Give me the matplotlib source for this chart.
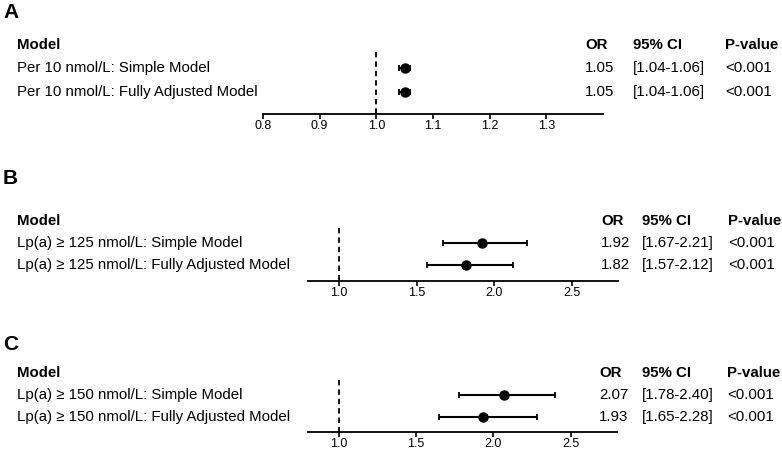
import matplotlib
matplotlib.use("Agg")
import matplotlib.pyplot as plt
from matplotlib.transforms import blended_transform_factory

plt.rcParams['font.family'] = ['Liberation Sans', 'DejaVu Sans']

W, H = 782, 451

# data
labels_a = ["Per 10 nmol/L: Simple Model", "Per 10 nmol/L: Fully Adjusted Model"]
or_a = [1.05, 1.05]
lo_a = [1.04, 1.04]
hi_a = [1.06, 1.06]
p_a = ["<0.001", "<0.001"]

labels_b = ["Lp(a) \u2265 125 nmol/L: Simple Model", "Lp(a) \u2265 125 nmol/L: Fully Adjusted Model"]
or_b = [1.92, 1.82]
lo_b = [1.67, 1.57]
hi_b = [2.21, 2.12]
p_b = ["<0.001", "<0.001"]

labels_c = ["Lp(a) \u2265 150 nmol/L: Simple Model", "Lp(a) \u2265 150 nmol/L: Fully Adjusted Model"]
or_c = [2.07, 1.93]
lo_c = [1.78, 1.65]
hi_c = [2.40, 2.28]
p_c = ["<0.001", "<0.001"]

ticks_a = [0.8, 0.9, 1.0, 1.1, 1.2, 1.3]
ticks_bc = [1.0, 1.5, 2.0, 2.5]

fig = plt.figure(figsize=(W / 100, H / 100), dpi=100)


def panel(letter, letter_y, labels, ors, los, his, ps, xlim, ticks,
          ax_x0, ax_x1, head_y, axis_y, ybot, cols):
    # axes spans from header row (y=-1) down to the axis line
    ax = fig.add_axes([ax_x0 / W, 1 - axis_y / H, (ax_x1 - ax_x0) / W, (axis_y - head_y) / H])
    ax.set_xlim(*xlim)
    ax.set_ylim(ybot, -1)
    for s in ['top', 'right', 'left']:
        ax.spines[s].set_visible(False)
    ax.spines['bottom'].set_linewidth(1.3)
    ax.set_yticks([])
    ax.set_xticks(ticks)
    ax.set_xticklabels([f"{t:.1f}" for t in ticks])
    ax.tick_params(axis='x', length=3.5, width=1.2, pad=1, labelsize=9)
    ax.patch.set_alpha(0)

    ax.vlines(1.0, -0.7, ybot, colors='black', linestyles=(0, (3, 2.2)), linewidth=1.3)

    rows = list(range(len(labels)))
    xerr = [[o - l for o, l in zip(ors, los)], [h - o for o, h in zip(ors, his)]]
    ax.errorbar(ors, rows, xerr=xerr, fmt='o', color='black', markersize=6.5,
                elinewidth=1.5, capsize=2.5, capthick=1.3, clip_on=False)

    tr = blended_transform_factory(fig.transFigure, ax.transData)
    fig.text(3 / W, 1 - letter_y / H, letter, fontsize=15, fontweight='bold', va='center')
    x_model, x_or, x_ci, x_p = [c / W for c in cols]
    kw = dict(transform=tr, va='center', fontsize=10.8, clip_on=False)
    ax.text(x_model, -1, "Model", fontweight='bold', **kw)
    ax.text(x_or, -1, "OR", fontweight='bold', **kw)
    ax.text(x_ci, -1, "95% CI", fontweight='bold', **kw)
    ax.text(x_p, -1, "P-value", fontweight='bold', **kw)
    for i, lab in enumerate(labels):
        ax.text(x_model, i, lab, **kw)
        ax.text(x_or, i, f"{ors[i]:.2f}", **kw)
        ax.text(x_ci, i, f"[{los[i]:.2f}-{his[i]:.2f}]", **kw)
        ax.text(x_p, i, ps[i], **kw)
    return ax


panel("A", 13, labels_a, or_a, lo_a, hi_a, p_a, (0.8, 1.4), ticks_a,
      263, 603, 45, 114, 1.95, (17, 585, 633, 725))
panel("B", 178, labels_b, or_b, lo_b, hi_b, p_b, (0.8, 2.8), ticks_bc,
      308, 618, 221, 281, 1.7, (17, 601, 642, 728))
panel("C", 345, labels_c, or_c, lo_c, hi_c, p_c, (0.8, 2.8), ticks_bc,
      308, 617, 373, 432, 1.67, (17, 599, 642, 727))

fig.savefig("out.png", dpi=100)
